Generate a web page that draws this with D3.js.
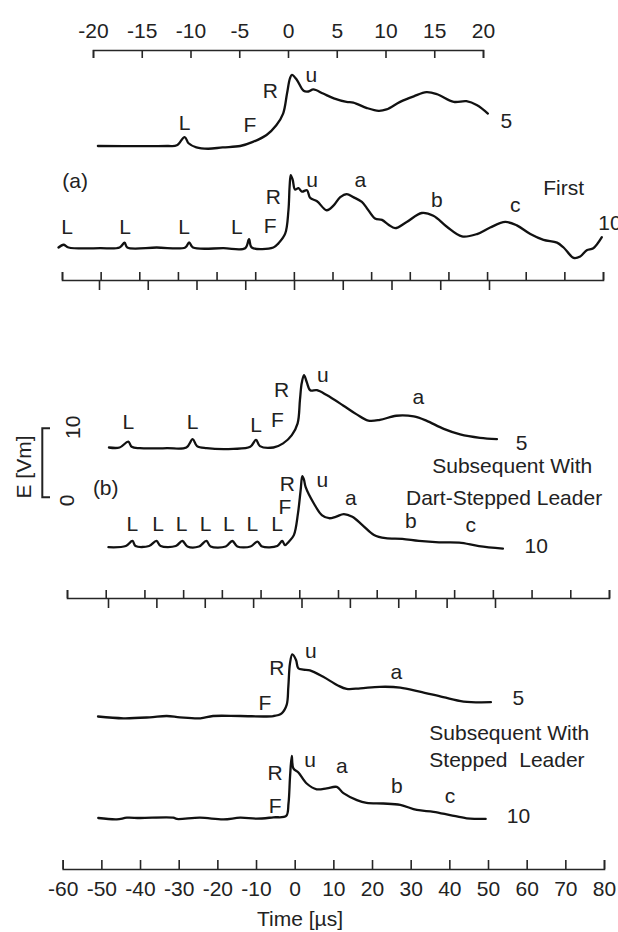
<!DOCTYPE html>
<html><head><meta charset="utf-8">
<script src="https://cdn.jsdelivr.net/npm/d3@7"></script>
<style>
body{margin:0;background:#fff}
svg text{font-family:"Liberation Sans",Arial,sans-serif;fill:#222}
</style></head><body>
<svg id="c" width="618" height="932"></svg>
<script>
// ---------------- DATA: [time µs, E (scale-bar units)] ----------------
const firstFast = [[-19.5,0],[-12.4,0],[-11.4,0.1],[-10.6,1.3],[-10.2,0.4],[-9.4,-0.2],[-8.2,-0.4],[-6.7,-0.2],[-4.9,0],[-3.6,0.6],[-2.2,1.6],[-1.2,3.0],[-0.5,4.7],[-0.1,7.6],[0.2,9.8],[0.4,10.3],[0.9,9.6],[1.6,8.0],[2.1,7.9],[2.6,8.2],[3.6,7.6],[4.7,6.9],[6.0,6.4],[6.7,6.3],[8.1,5.5],[9.3,5.1],[10.1,5.3],[11.5,6.4],[12.9,7.2],[14.2,7.8],[15.3,7.5],[17.0,6.4],[18.3,6.5],[19.4,5.9],[20.5,4.7]];
const firstSlow = [[-60.9,0],[-59.6,0.4],[-58.3,0],[-50.1,-0.1],[-45.1,0],[-43.8,0.7],[-43.1,0],[-35.5,0],[-28.1,0],[-27.1,0.75],[-26.1,0],[-18.2,-0.1],[-12.6,-0.1],[-11.6,1.2],[-10.9,0],[-5.3,0],[-4.0,0.6],[-2.25,2.0],[-1.4,5.4],[-1.1,8.8],[-0.8,10.5],[-0.3,9.8],[0.3,8.4],[1.2,8.6],[2.1,8.1],[3.4,8.3],[4.2,7.2],[6.0,6.7],[8.5,5.4],[10.3,6.1],[12.0,7.3],[13.7,7.75],[15.4,7.3],[17.6,6.6],[18.9,5.7],[21.0,4.2],[22.8,4.0],[24.5,3.3],[26.2,2.8],[29.2,3.7],[33.1,5.0],[36.1,4.6],[39.6,3.0],[43.5,1.6],[47.4,1.95],[50.8,2.9],[54.7,3.7],[57.7,3.2],[61.2,1.95],[64.6,1.1],[68.1,0.7],[69.8,0.0],[72.4,-1.5],[74.1,-1.3],[75.8,-0.4],[77.5,-0.1],[79.7,1.5]];
const dartFast = [[-19.9,0],[-18.8,0],[-17.9,0.85],[-17.55,0.1],[-16.7,-0.1],[-13.9,-0.1],[-11.9,0],[-11.25,1.2],[-10.8,0.2],[-9.8,-0.1],[-7.05,-0.2],[-5.3,0.1],[-4.7,1.1],[-4.3,0.2],[-2.9,0],[-1.9,0.6],[-1.0,1.8],[-0.4,3.5],[-0.16,6.9],[0.02,9.3],[0.26,10.5],[0.54,9.5],[0.9,8.3],[1.6,8.3],[2.6,7.6],[4.3,6.1],[5.7,4.8],[6.9,3.9],[8.1,4.0],[9.8,4.6],[11.6,4.5],[12.9,3.9],[14.7,2.7],[16.4,1.9],[18.45,1.4],[20.2,1.2]];
const dartSlow = [[-49.3,-0.1],[-44.8,0.07],[-43.1,0.8],[-42.3,0.07],[-38.8,0.07],[-36.9,0.8],[-35.8,0.07],[-31.9,0.07],[-30.2,0.8],[-28.9,0],[-25.9,0],[-24.0,0.8],[-22.9,0],[-19.0,0],[-17.3,0.8],[-16.0,0],[-12.6,0],[-10.8,0.7],[-9.6,0],[-5.7,0.07],[-4.4,0.8],[-3.7,0.2],[-2.7,0.7],[-1.4,1.65],[-0.34,4.8],[0.36,8.2],[0.78,10.2],[1.2,9.7],[1.65,8.6],[3.8,6.2],[5.9,4.5],[7.7,4.1],[9.4,4.3],[11.5,4.7],[13.7,4.3],[16.3,3.1],[19.3,1.67],[22.3,1.2],[26.6,1.1],[30.9,0.8],[36.1,0.6],[41.3,0.55],[46.4,0.07],[52.6,-0.3]];
const stepFast = [[-20.0,0],[-17.4,-0.26],[-14.7,-0.12],[-12.95,0.07],[-11.6,-0.12],[-9.5,-0.26],[-8.2,0.07],[-5.4,0.07],[-2.0,0.07],[-1.16,0.46],[-0.65,1.67],[-0.48,4.3],[-0.31,7.7],[-0.07,9.0],[0.31,8.2],[0.54,7.0],[1.06,6.8],[1.74,6.7],[3.1,5.76],[4.6,4.5],[5.5,4.0],[6.9,4.08],[8.9,4.3],[11.0,4.2],[13.0,3.6],[15.4,2.8],[17.5,2.16],[20.3,2.07]];
const stepSlow = [[-50.8,0],[-46.0,-0.2],[-43.4,0.04],[-40.0,0],[-31.4,0.04],[-30.5,-0.14],[-24.5,0.04],[-18.4,-0.2],[-14.1,0.04],[-9.8,-0.1],[-5.5,0.1],[-2.2,0.3],[-1.6,2.1],[-1.2,6.0],[-0.75,9.0],[-0.34,7.2],[0.96,6.6],[3.1,5.0],[5.7,4.16],[8.3,4.3],[10.9,4.5],[12.6,3.6],[16.1,2.6],[18.6,2.2],[22.9,2.1],[27.3,1.9],[31.6,1.16],[35.9,0.9],[40.2,0.43],[44.5,-0.04],[49.4,-0.14]];

const fastTicks = [-20,-15,-10,-5,0,5,10,15,20];
const slowTicks = [-60,-50,-40,-30,-20,-10,0,10,20,30,40,50,60,70,80];
const scaleBarTicks = [0,10];

// ---------------- LAYOUT ----------------
const FONT = "Liberation Sans, Arial, sans-serif";
const svg = d3.select('#c');
const xA5 = d3.scaleLinear().domain([-20,20]).range([93,483]);
const xA10 = d3.scaleLinear().domain([-60,80]).range([62,603]);
const xA5t = d3.scaleLinear().domain([-20,20]).range([99,489]);
const xB5 = d3.scaleLinear().domain([-20,20]).range([108,495]);
const xB10 = d3.scaleLinear().domain([-60,80]).range([67,609]);
const xC5 = d3.scaleLinear().domain([-20,20]).range([98,488]);
const xC10 = d3.scaleLinear().domain([-60,80]).range([62.7,604]);

function yScale(base){ return d3.scaleLinear().domain([0,10]).range([base, base-69]); }

function trace(data, x, y){
  svg.append('path').datum(data)
    .attr('d', d3.line().x(d=>x(d[0])).y(d=>y(d[1])).curve(d3.curveCatmullRom.alpha(0.5)))
    .attr('fill','none').attr('stroke','#111').attr('stroke-width',2.3)
    .attr('stroke-linejoin','round').attr('stroke-linecap','round');
}
function labels(x, y, list, size){
  list.forEach(([txt,t,e,anchor])=>{
    svg.append('text').attr('x',x(t)).attr('y',y(e))
      .attr('text-anchor',anchor||'middle').attr('font-size',size||21)
      .style('white-space','pre').text(txt);
  });
}
function styleAxis(g){
  g.attr('font-size',21).attr('font-family',FONT).attr('color','#262626');
  g.selectAll('line,path').attr('stroke-width',1.6);
}

// Top axis (5 µs/div)
svg.append('g').attr('transform','translate(0,50)')
  .call(d3.axisTop(xA5).tickValues(fastTicks).tickSize(-8).tickSizeOuter(-8).tickPadding(12).tickFormat(d=>String(d)))
  .call(styleAxis);

// Panel (a)
const yA5 = yScale(146), yA10 = yScale(247.5);
trace(firstFast, xA5, yA5);
trace(firstSlow, xA10, yA10);
labels(xA5, yA5, [["L",-10.6,2.3],["F",-3.9,2.1],["R",-1.8,6.9],["u",2.4,9.3],["5",22.4,2.6]]);
labels(xA10, yA10, [["(a)",-56.6,8.6],["L",-58.7,1.96],["L",-43.7,1.96],["L",-28.4,1.96],["L",-14.75,1.96],
  ["F",-6.1,2.14],["R",-5.3,6.3],["u",4.7,8.8],["a",17.2,8.8],["b",37.0,5.9],["c",57.3,5.2],["First",69.8,7.6],["10",78.8,2.54,"start"]]);
svg.append('g').attr('transform','translate(0,280)')
  .call(d3.axisBottom(xA10).tickValues(slowTicks).tickSize(-8).tickSizeOuter(-8).tickFormat('')).call(styleAxis);
svg.append('g').attr('transform','translate(0,280)')
  .call(d3.axisBottom(xA5t).tickValues(fastTicks).tickSize(10).tickFormat('')).call(styleAxis)
  .call(g=>g.select('.domain').remove());

// Panel (b)
const yB5 = yScale(447.5), yB10 = yScale(546.5);
trace(dartFast, xB5, yB5);
trace(dartSlow, xB10, yB10);
labels(xB5, yB5, [["L",-17.9,2.64],["L",-11.25,2.64],["L",-4.7,2.29],["F",-2.5,2.93],["R",-2.05,7.36],["u",2.2,9.54],["a",12.07,6.3],["5",22.76,-0.36]]);
labels(xB10, yB10, [["(b)",-50,7.46],["L",-43.1,2.29],["L",-36.5,2.29],["L",-30.4,2.29],["L",-24.2,2.29],["L",-18.2,2.29],["L",-12.1,2.29],["L",-5.7,2.29],
  ["F",-3.7,4.7],["R",-3.1,8.1],["u",5.94,8.67],["a",13.3,6.0],["b",28.8,2.64],["c",44.3,2.14],["10",61.2,-0.99],
  ["Subsequent With",55.0,10.6],["Dart-Stepped Leader",52.9,6.0]]);
svg.append('g').attr('transform','translate(0,598)')
  .call(d3.axisBottom(xB10).tickValues(slowTicks).tickSize(-8).tickSizeOuter(-8).tickFormat('')).call(styleAxis);
svg.append('g').attr('transform','translate(0,598)')
  .call(d3.axisBottom(xB5).tickValues(fastTicks).tickSize(10).tickFormat('')).call(styleAxis)
  .call(g=>g.select('.domain').remove());

// Scale bar E
const yBar = d3.scaleLinear().domain([0,10]).range([497.3,428.3]);
svg.append('path').attr('d',`M50,${yBar(10)}H42.3V${yBar(0)}H50`).attr('fill','none').attr('stroke','#222').attr('stroke-width',2);
svg.append('text').attr('transform',`translate(80,${yBar(10)-1}) rotate(-90)`).attr('text-anchor','middle').attr('font-size',21).text(String(scaleBarTicks[1]));
svg.append('text').attr('transform',`translate(73.5,${yBar(0)+3}) rotate(-90)`).attr('text-anchor','middle').attr('font-size',21).text(String(scaleBarTicks[0]));
svg.append('text').attr('transform',`translate(31,467) rotate(-90)`).attr('text-anchor','middle').attr('font-size',21).text('E [Vm]');

// Panel (c)
const yC5 = yScale(716.5), yC10 = yScale(818);
trace(stepFast, xC5, yC5);
trace(stepSlow, xC10, yC10);
labels(xC5, yC5, [["R",-1.67,6.0],["F",-2.87,0.94],["u",1.82,8.5],["a",10.6,5.5],["5",23.1,1.67]]);
labels(xC10, yC10, [["R",-5.07,5.5],["F",-5.07,0.77],["u",4.0,7.43],["a",12.2,6.48],["b",26.4,3.58],["c",40.2,2.2],["10",57.9,-0.77],
  ["Subsequent With",55.5,11.3],["Stepped  Leader",54.9,7.43]]);

// Bottom axis
svg.append('g').attr('transform','translate(0,869)')
  .call(d3.axisBottom(xC10).tickValues(slowTicks).tickSize(-9).tickSizeOuter(-9).tickPadding(12).tickFormat(d=>String(d)))
  .call(styleAxis);
svg.append('text').attr('x',300).attr('y',926).attr('text-anchor','middle').attr('font-size',21).text('Time [µs]');
</script>
</body></html>
